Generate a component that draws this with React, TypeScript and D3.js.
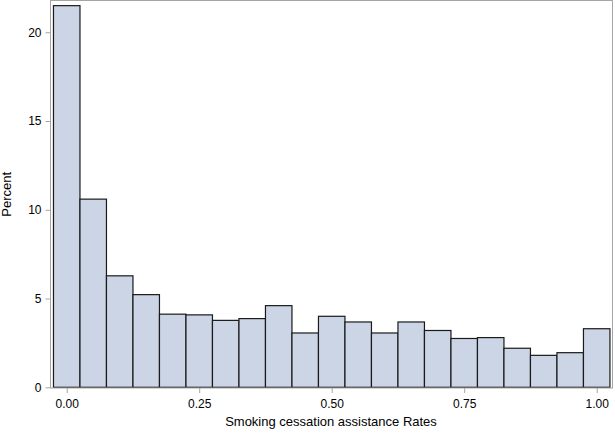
import { useEffect, useRef } from 'react';
import * as d3 from 'd3';

// bin midpoints (bin width 0.05)
const binMids = [0, 0.05, 0.1, 0.15, 0.2, 0.25, 0.3, 0.35, 0.4, 0.45, 0.5, 0.55, 0.6, 0.65, 0.7, 0.75, 0.8, 0.85, 0.9, 0.95, 1.0];
const percents = [21.5, 10.6, 6.28, 5.22, 4.12, 4.08, 3.77, 3.87, 4.6, 3.06, 4.0, 3.68, 3.06, 3.68, 3.2, 2.75, 2.8, 2.2, 1.8, 1.95, 3.3];
const xTicks = [0, 0.25, 0.5, 0.75, 1.0];
const yTicks = [0, 5, 10, 15, 20];
const binWidth = 0.05;

const App = () => {
  const ref = useRef<SVGSVGElement | null>(null);

  useEffect(() => {
    const W = 615, H = 433;
    const left = 50.5, right = 612.5, top = 0.5, bottom = 388;

    const svg = d3.select(ref.current);
    svg.selectAll('*').remove();

    const x = d3.scaleLinear().domain([-0.0306, 1.0298]).range([left, right]);
    const y = d3.scaleLinear().domain([0, 21.79]).range([bottom - 0.7, top]);

    const font = 'Arial, "Liberation Sans", sans-serif';

    // bars
    svg.append('g')
      .selectAll('rect')
      .data(binMids.map((m, i) => ({ m, v: percents[i] })))
      .join('rect')
      .attr('x', d => x(d.m - binWidth / 2))
      .attr('width', d => x(d.m + binWidth / 2) - x(d.m - binWidth / 2))
      .attr('y', d => y(d.v))
      .attr('height', d => y(0) - y(d.v))
      .attr('fill', '#cbd5e5')
      .attr('stroke', '#1a1a1a')
      .attr('stroke-width', 1.2);

    // frame
    svg.append('rect')
      .attr('x', left)
      .attr('y', top)
      .attr('width', right - left)
      .attr('height', bottom - top)
      .attr('fill', 'none')
      .attr('stroke', '#a5a5a5')
      .attr('stroke-width', 1);

    // y axis
    const yAxis = svg.append('g')
      .attr('transform', `translate(${left},0)`)
      .call(d3.axisLeft(y).tickValues(yTicks).tickSize(5).tickPadding(4).tickFormat(d3.format('d')));
    yAxis.select('.domain').remove();
    yAxis.selectAll('line').attr('stroke', '#a5a5a5');
    yAxis.selectAll('text').attr('font-family', font).attr('font-size', 12).attr('fill', '#000');

    // x axis
    const xAxis = svg.append('g')
      .attr('transform', `translate(0,${bottom})`)
      .call(d3.axisBottom(x).tickValues(xTicks).tickSize(5).tickPadding(6).tickFormat(d3.format('.2f')));
    xAxis.select('.domain').remove();
    xAxis.selectAll('line').attr('stroke', '#a5a5a5');
    xAxis.selectAll('text').attr('font-family', font).attr('font-size', 12).attr('fill', '#000');

    // axis labels
    svg.append('text')
      .attr('x', 331)
      .attr('y', 426)
      .attr('text-anchor', 'middle')
      .attr('font-family', font)
      .attr('font-size', 13)
      .text('Smoking cessation assistance Rates');

    svg.append('text')
      .attr('transform', `translate(11,${(top + bottom) / 2}) rotate(-90)`)
      .attr('text-anchor', 'middle')
      .attr('font-family', font)
      .attr('font-size', 13)
      .text('Percent');

    svg.attr('width', W).attr('height', H);
  }, []);

  return (
    <svg
      ref={ref}
      width={615}
      height={433}
      style={{ position: 'absolute', left: 0, top: 0, background: '#fff' }}
    />
  );
};

export default App;
